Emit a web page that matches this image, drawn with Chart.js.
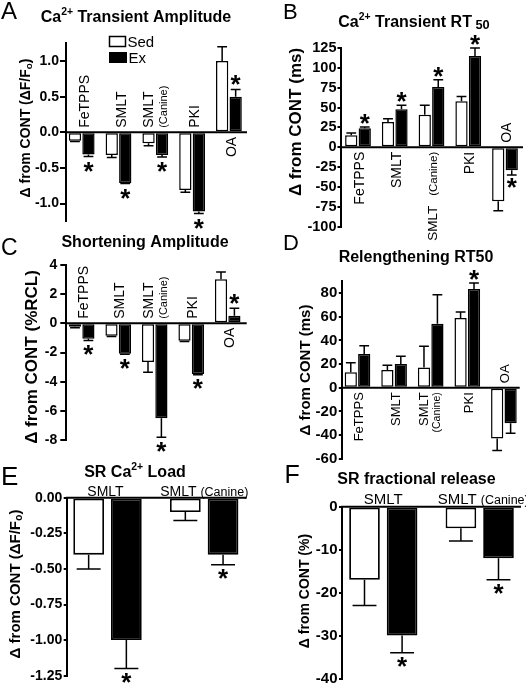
<!DOCTYPE html>
<html><head><meta charset="utf-8">
<script src="https://cdn.jsdelivr.net/npm/chart.js@4.4.1/dist/chart.umd.min.js"></script>
<style>
html,body{margin:0;padding:0;background:#fff;}
#wrap{position:relative;width:526px;height:689px;overflow:hidden;background:#fff;}
canvas{position:absolute;left:0;top:0;}
</style></head><body>
<div id="wrap">
<canvas id="cA" width="526" height="689"></canvas>
<canvas id="cB" width="526" height="689"></canvas>
<canvas id="cC" width="526" height="689"></canvas>
<canvas id="cD" width="526" height="689"></canvas>
<canvas id="cE" width="526" height="689"></canvas>
<canvas id="cF" width="526" height="689"></canvas>
</div>
<script>
// ===================== DATA =====================
const categories5 = ['FeTPPS', 'SMLT', 'SMLT (Canine)', 'PKI', 'OA'];
const categories2 = ['SMLT', 'SMLT (Canine)'];
const seriesNames = ['Sed', 'Ex'];

// A: Ca2+ Transient Amplitude (ΔF/Fo)
const aSed    = [-0.12, -0.32, -0.155, -0.81, 1.00];
const aSedErr = [0.01, 0.035, 0.035, 0.03, 0.20];
const aEx     = [-0.31, -0.71, -0.32, -1.11, 0.50];
const aExErr  = [0.03, 0.01, 0.025, 0.03, 0.10];
const aSig    = [1, 1, 1, 1, 1];
const aTicks  = [-1.0, -0.5, 0.0, 0.5, 1.0];

// B: Ca2+ Transient RT50 (ms)
const bSed    = [15, 32, 41, 58, -68];
const bSedErr = [3, 4, 12, 6, 12];
const bEx     = [24, 48, 76, 115, -29];
const bExErr  = [1.5, 5, 9, 10, 6];
const bSig    = [1, 1, 1, 1, 1];
const bTicks  = [-100, -75, -50, -25, 0, 25, 50, 75, 100, 125];

// C: Shortening Amplitude (%RCL)
const cSed    = [-0.23, -0.85, -2.65, -1.2, 3.0];
const cSedErr = [0.07, 0.05, 0.7, 0.05, 0.5];
const cEx     = [-1.05, -2.08, -6.48, -3.47, 0.52];
const cExErr  = [0.12, 0.03, 1.3, 0.05, 0.5];
const cSig    = [1, 1, 1, 1, 1];
const cTicks  = [-8, -6, -4, -2, 0, 2, 4];

// D: Relengthening RT50 (ms)
const dSed    = [13, 15, 17, 59, -43];
const dSedErr = [8, 4, 18, 5, 10];
const dEx     = [28.5, 20, 54, 83.5, -30];
const dExErr  = [7, 6.5, 24.5, 5, 8.5];
const dSig    = [0, 0, 0, 1, 0];
const dTicks  = [-60, -40, -20, 0, 20, 40, 60, 80];

// E: SR Ca2+ Load (ΔF/Fo)
const eSed    = [-0.40, -0.10];
const eSedErr = [0.10, 0.06];
const eEx     = [-1.00, -0.40];
const eExErr  = [0.20, 0.07];
const eSig    = [1, 1];
const eTicks  = [-1.25, -1.00, -0.75, -0.50, -0.25, 0.00];

// F: SR fractional release (%)
const fSed    = [-17, -5];
const fSedErr = [6, 3];
const fEx     = [-30, -12];
const fExErr  = [4, 5];
const fSig    = [1, 1];
const fTicks  = [-40, -30, -20, -10, 0];

// ===================== RENDERING =====================
const FF = "'Liberation Sans', Arial, Helvetica, sans-serif";
function fnt(size, bold) { return (bold ? 'bold ' : '') + size + 'px ' + FF; }

function drawRich(ctx, segs, x, y, size, bold, align) {
  let total = 0;
  const parts = segs.map(s => {
    const sz = s.k ? size * (s.r || 0.65) : (s.sz || size);
    ctx.font = fnt(sz, s.b !== undefined ? s.b : bold);
    const w = ctx.measureText(s.t).width + (s.pad || 0);
    total += w;
    return { s, sz, w };
  });
  let cx = align === 'center' ? x - total / 2 : align === 'right' ? x - total : x;
  ctx.textAlign = 'left';
  for (const p of parts) {
    ctx.font = fnt(p.sz, p.s.b !== undefined ? p.s.b : bold);
    const dy = p.s.k === 'sup' ? -size * 0.4 : p.s.k === 'sub' ? size * (p.s.d || 0.22) : 0;
    ctx.fillText(p.s.t, cx, y + dy);
    cx += p.w;
  }
}

function makePanel(id, P) {
  const deco = {
    id: 'deco' + id,
    afterDatasetsDraw(chart) {
      const ctx = chart.ctx, ys = chart.scales.y, xs = chart.scales.x, area = chart.chartArea;
      const y0 = ys.getPixelForValue(0);
      ctx.save();
      ctx.fillStyle = '#000'; ctx.strokeStyle = '#000';
      // zero line
      ctx.lineWidth = P.axisW;
      ctx.beginPath(); ctx.moveTo(area.left - 1, y0); ctx.lineTo(area.right, y0); ctx.stroke();
      // error bars + significance
      [[P.sed, P.sedErr], [P.ex, P.exErr]].forEach(([vals, errs], d) => {
        const meta = chart.getDatasetMeta(d);
        meta.data.forEach((bar, i) => {
          const v = vals[i], e = errs[i], sg = v < 0 ? -1 : 1;
          const yv = ys.getPixelForValue(v), ye = ys.getPixelForValue(v + sg * e);
          const w = bar.width * P.capFrac;
          ctx.lineWidth = P.errW;
          ctx.beginPath();
          ctx.moveTo(bar.x, yv); ctx.lineTo(bar.x, ye);
          ctx.moveTo(bar.x - w / 2, ye); ctx.lineTo(bar.x + w / 2, ye);
          ctx.stroke();
          if (d === 1 && P.sig[i]) {
            const cy = ye - sg * P.starOff;
            ctx.font = fnt(P.starSize, true);
            const m = ctx.measureText('*');
            const base = cy - (m.actualBoundingBoxDescent - m.actualBoundingBoxAscent) / 2;
            ctx.textAlign = 'center'; ctx.textBaseline = 'alphabetic';
            ctx.fillText('*', bar.x, base);
          }
        });
      });
      // category labels
      ctx.textBaseline = 'alphabetic';
      P.cats.forEach((c, i) => {
        const gc = xs.getPixelForValue(i);
        if (P.horizontal) {
          if (c === 'SMLT (Canine)') {
            drawRich(ctx, [{ t: 'SMLT ', sz: P.lblSize }, { t: '(Canine)', sz: P.canSize }], gc - P.canStart, y0 - P.hGap, P.lblSize, false, 'left');
          } else {
            ctx.font = fnt(P.lblSize, false); ctx.textAlign = 'center';
            ctx.fillText(c, gc + P.hOff, y0 - P.hGap);
          }
          return;
        }
        const above = (P.sed[i] + P.ex[i]) < 0;
        const ys0 = above ? y0 - P.lblGap : y0 + P.lblGap;
        const align = above ? 'left' : 'right';
        const lines = [];
        if (c === 'SMLT (Canine)') {
          if (P.canMode === 'two') {
            lines.push([[{ t: 'SMLT', sz: P.lblSize }], P.canOff[0]]);
            lines.push([[{ t: '(Canine)', sz: P.canSize }], P.canOff[1]]);
          } else {
            lines.push([[{ t: 'SMLT', sz: P.canMain, pad: P.canPad }, { t: '(Canine)', sz: P.canSize }], P.canOff[0]]);
          }
        } else {
          lines.push([[{ t: c, sz: P.lblSize }], P.lblOff]);
        }
        lines.forEach(([segs, off]) => {
          ctx.save();
          ctx.translate(gc + off, ys0);
          ctx.rotate(-Math.PI / 2);
          drawRich(ctx, segs, 0, 0, P.lblSize, false, align);
          ctx.restore();
        });
      });
      // title
      ctx.textBaseline = 'alphabetic';
      drawRich(ctx, P.title, P.titleX, P.titleY, P.titleSize, true, 'center');
      // panel letter
      ctx.font = fnt(P.letterSize, false); ctx.textAlign = 'left';
      ctx.fillText(P.letter, P.letterX, P.letterY);
      // y title
      ctx.save();
      ctx.translate(P.ytX, P.ytY); ctx.rotate(-Math.PI / 2);
      ctx.textBaseline = 'middle';
      drawRich(ctx, P.yTitle, 0, 0, P.ytSize, true, 'center');
      ctx.restore();
      // legend
      if (P.legend) {
        ctx.textBaseline = 'alphabetic';
        ctx.lineWidth = 1.5;
        ctx.fillStyle = '#fff'; ctx.fillRect(109.5, 36.5, 16, 10);
        ctx.strokeRect(109.5, 36.5, 16, 10);
        ctx.fillStyle = '#000'; ctx.fillRect(109, 52, 18, 11);
        ctx.font = fnt(15, false); ctx.textAlign = 'left';
        ctx.fillText(seriesNames[0], 127.5, 46.8);
        ctx.fillText(seriesNames[1], 128.5, 63.3);
      }
      ctx.restore();
    }
  };

  const ds = (vals, bg) => ({
    data: vals.map((v, i) => ({ x: i, y: v })),
    backgroundColor: bg, borderColor: '#000', borderWidth: P.barBorder, borderSkipped: false,
    categoryPercentage: P.catPct, barPercentage: P.barPct
  });

  new Chart(document.getElementById(id), {
    type: 'bar',
    data: { datasets: [
      Object.assign(ds(P.sed, '#ffffff'), { label: seriesNames[0] }),
      Object.assign(ds(P.ex, '#000000'), { label: seriesNames[1] })
    ] },
    options: {
      responsive: false, animation: false, events: [],
      layout: { padding: { left: P.axisX - P.yW, top: P.top, right: 526 - P.right, bottom: 689 - P.bottom } },
      plugins: { legend: { display: false }, tooltip: { enabled: false }, title: { display: false } },
      scales: {
        x: { type: 'linear', display: false, offset: false, min: P.xmin, max: P.xmax,
             afterBuildTicks: s => { s.ticks = P.cats.map((c, i) => ({ value: i })); } },
        y: { type: 'linear', min: P.ymin, max: P.ymax,
             afterBuildTicks: s => { s.ticks = P.ticks.map(v => ({ value: v })); },
             afterFit: s => { s.width = P.yW; },
             border: { display: true, color: '#000', width: P.axisW },
             grid: { display: true, drawOnChartArea: false, drawTicks: true, tickLength: P.tickLen, color: '#000', lineWidth: P.axisW },
             ticks: { color: '#000', padding: P.tickPad, autoSkip: false,
                      font: { family: FF, size: P.tickSize, weight: 'bold' },
                      callback: v => Number(v).toFixed(P.dec) } }
      }
    },
    plugins: [deco]
  });
}

function geom(axisX, right, gc0, step) {
  return { axisX, right, xmin: (axisX - gc0) / step, xmax: (right - gc0) / step };
}

const common5 = { cats: categories5, axisW: 2, errW: 1.5, capFrac: 0.8, barBorder: 1.5, catPct: 0.734, barPct: 0.91, yW: 45, lblGap: 4.5 };
const common2 = { cats: categories2, axisW: 2, errW: 1.5, capFrac: 0.78, barBorder: 1.8, catPct: 0.78, barPct: 0.815, yW: 45, horizontal: true };

// A
(() => { const g = geom(66, 247, 81.7, 36.8);
makePanel('cA', Object.assign({}, common5, g, {
  sed: aSed, sedErr: aSedErr, ex: aEx, exErr: aExErr, sig: aSig, ticks: aTicks, dec: 1,
  ymin: -1.25, ymax: 1.25, top: 43.2, bottom: 221.4,
  tickLen: 6, tickPad: 1, tickSize: 14, starSize: 26, starOff: 10,
  lblSize: 14, canSize: 11, lblOff: 7, canMode: 'two', canOff: [-2, 12],
  title: [{ t: 'Ca' }, { t: '2+', k: 'sup' }, { t: ' Transient Amplitude' }], titleX: 136, titleY: 21.5, titleSize: 16,
  letter: 'A', letterX: 1, letterY: 18.5, letterSize: 24,
  yTitle: [{ t: 'Δ from CONT (ΔF/F' }, { t: 'o', k: 'sub', r: 0.7 }, { t: ')' }], ytX: 26.5, ytY: 128, ytSize: 14,
  legend: true
})); })();

// B
(() => { const g = geom(340.5, 523, 358, 36.75);
makePanel('cB', Object.assign({}, common5, g, {
  sed: bSed, sedErr: bSedErr, ex: bEx, exErr: bExErr, sig: bSig, ticks: bTicks, dec: 0,
  ymin: -100, ymax: 125, top: 48.1, bottom: 226.6,
  tickLen: 3, tickPad: 1, tickSize: 14.5, starSize: 26, starOff: 8,
  lblSize: 14, canSize: 11.5, canMain: 13.5, canPad: 10, lblOff: 6, canMode: 'one', canOff: [5.5],
  title: [{ t: 'Ca' }, { t: '2+', k: 'sup' }, { t: ' Transient RT' }, { t: ' 50', k: 'sub', r: 0.8, d: 0.15 }], titleX: 414, titleY: 26.5, titleSize: 16,
  letter: 'B', letterX: 283, letterY: 18.5, letterSize: 22,
  yTitle: [{ t: 'Δ from CONT (ms)' }], ytX: 296, ytY: 122, ytSize: 17
})); })();

// C
(() => { const g = geom(66.3, 246.7, 81.7, 36.5);
makePanel('cC', Object.assign({}, common5, g, {
  sed: cSed, sedErr: cSedErr, ex: cEx, exErr: cExErr, sig: cSig, ticks: cTicks, dec: 0,
  ymin: -8, ymax: 4, top: 264.7, bottom: 440.4,
  tickLen: 6, tickPad: 3, tickSize: 14, starSize: 26, starOff: 9.5,
  lblSize: 14, canSize: 11, lblOff: 6, canMode: 'two', canOff: [-2, 12],
  title: [{ t: 'Shortening Amplitude' }], titleX: 145, titleY: 247.3, titleSize: 16,
  letter: 'C', letterX: 1, letterY: 255, letterSize: 23,
  yTitle: [{ t: 'Δ from CONT (%RCL)' }], ytX: 32.5, ytY: 357, ytSize: 17
})); })();

// D
(() => { const g = geom(341.8, 519.7, 357.5, 36.6);
makePanel('cD', Object.assign({}, common5, g, {
  sed: dSed, sedErr: dSedErr, ex: dEx, exErr: dExErr, sig: dSig, ticks: dTicks, dec: 0,
  ymin: -60, ymax: 90, top: 281.2, bottom: 458.7,
  tickLen: 3, tickPad: 1.5, tickSize: 15, starSize: 26, starOff: 7.6,
  lblSize: 13, canSize: 10.5, lblOff: 5.5, canMode: 'two', canOff: [-3, 9.5],
  title: [{ t: 'Relengthening RT50' }], titleX: 416, titleY: 261.5, titleSize: 16,
  letter: 'D', letterX: 283, letterY: 250, letterSize: 22,
  yTitle: [{ t: 'Δ from CONT (ms)' }], ytX: 306, ytY: 370, ytSize: 15
})); })();

// E
(() => { const g = geom(66.7, 246.7, 107.5, 96.7);
makePanel('cE', Object.assign({}, common2, g, {
  sed: eSed, sedErr: eSedErr, ex: eEx, exErr: eExErr, sig: eSig, ticks: eTicks, dec: 2,
  ymin: -1.25, ymax: 0, top: 497.7, bottom: 675.7,
  tickLen: 3, tickPad: 1.5, tickSize: 14, starSize: 26, starOff: 9,
  lblSize: 14, canSize: 12.5, hOff: -2, hGap: 1.5, canStart: 44,
  title: [{ t: 'SR Ca' }, { t: '2+', k: 'sup' }, { t: ' Load' }], titleX: 135, titleY: 476.5, titleSize: 16,
  letter: 'E', letterX: 1, letterY: 484.5, letterSize: 26,
  yTitle: [{ t: 'Δ from CONT (ΔF/F' }, { t: 'o', k: 'sub', r: 0.7 }, { t: ')' }], ytX: 16, ytY: 584, ytSize: 15
})); })();

// F
(() => { const g = geom(342, 521, 383.3, 96.4);
makePanel('cF', Object.assign({}, common2, g, {
  sed: fSed, sedErr: fSedErr, ex: fEx, exErr: fExErr, sig: fSig, ticks: fTicks, dec: 0,
  ymin: -40, ymax: 0, top: 506.7, bottom: 683.3,
  tickLen: 3, tickPad: 1.5, tickSize: 15, starSize: 26, starOff: 9,
  lblSize: 15, canSize: 12.5, hOff: 0, hGap: 3, canStart: 42,
  title: [{ t: 'SR fractional release' }], titleX: 416.5, titleY: 484, titleSize: 16,
  letter: 'F', letterX: 284.5, letterY: 483.3, letterSize: 25,
  yTitle: [{ t: 'Δ from CONT (%)' }], ytX: 305, ytY: 591, ytSize: 14
})); })();
</script>
</body></html>
